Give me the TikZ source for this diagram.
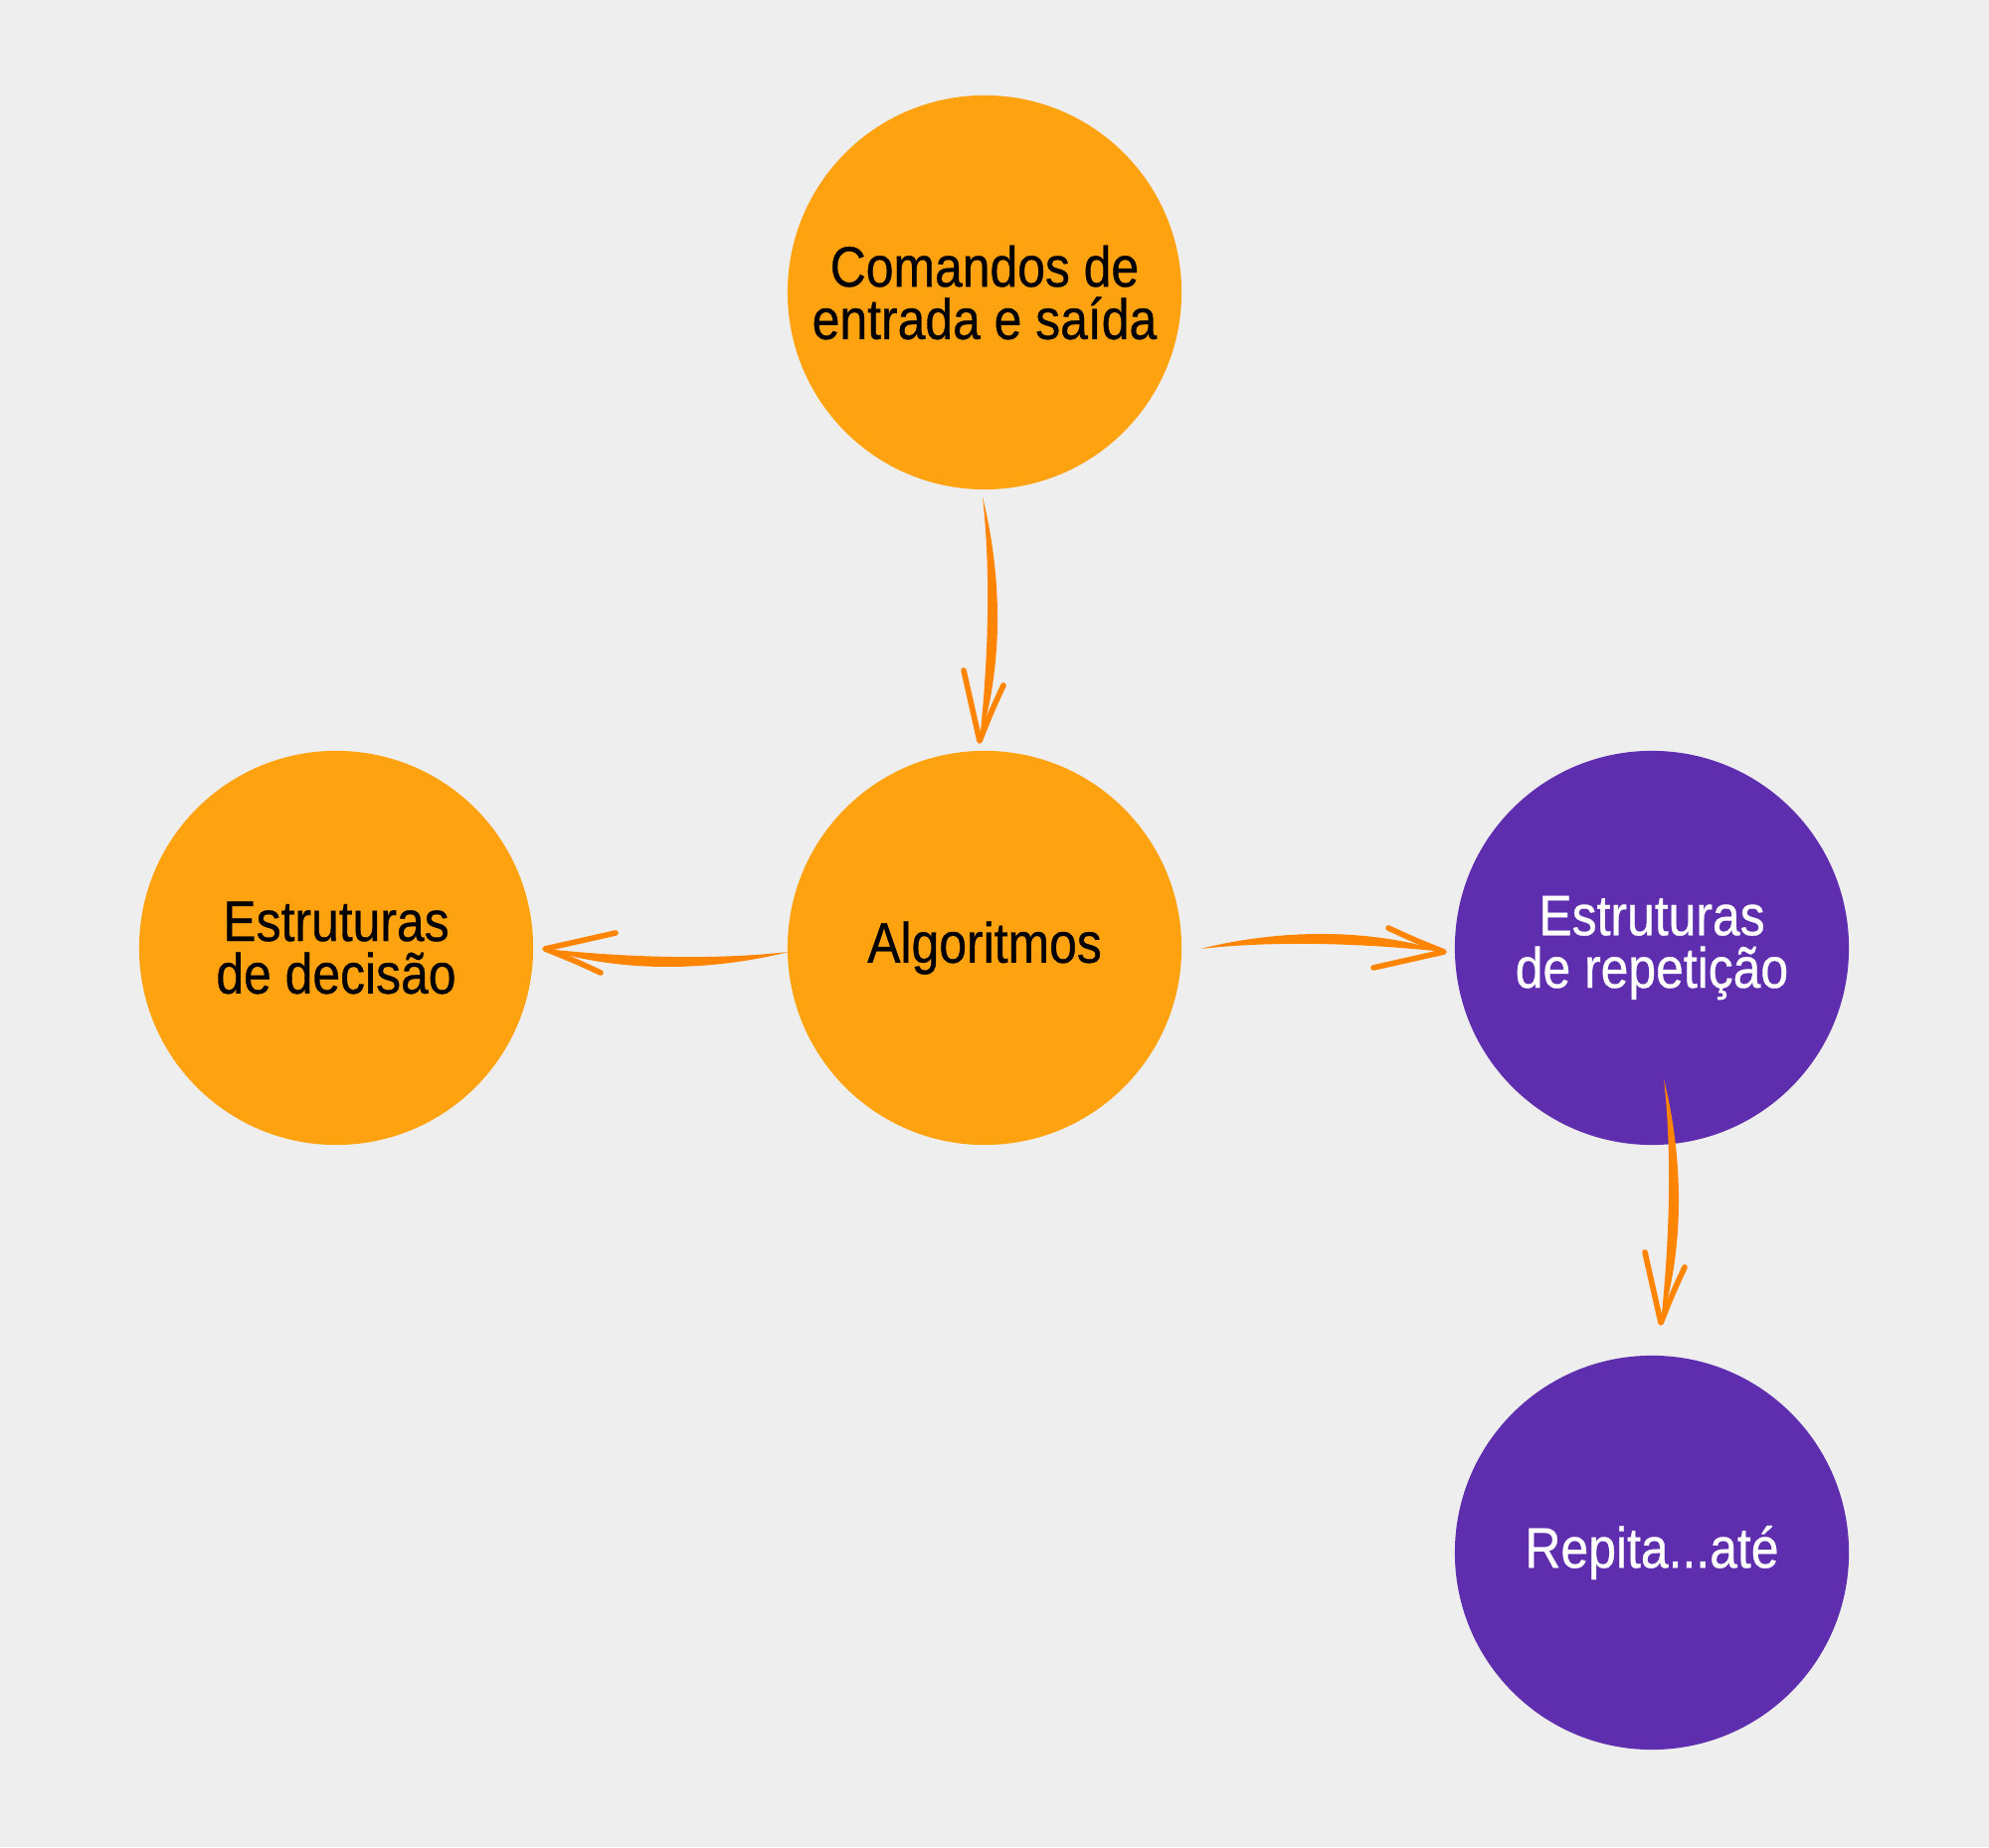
\documentclass[tikz,border=0pt]{standalone}
\usepackage{fontspec}
\setmainfont{Liberation Sans}[FakeStretch=0.87,FakeBold=0.6]
\usetikzlibrary{calc}
\definecolor{bgc}{HTML}{EEEEEE}
\definecolor{orangec}{HTML}{FFA210}
\definecolor{purplec}{HTML}{5F2EAF}
\definecolor{arrowc}{HTML}{FF8400}
\begin{document}
\begin{tikzpicture}[x=0.01cm,y=0.01cm,
  bubble/.style={circle, minimum size=3.96cm, inner sep=0pt, align=center,
    font=\fontsize{16.3}{15}\selectfont},
  orangebubble/.style={bubble, fill=orangec, text=black},
  purplebubble/.style={bubble, fill=purplec, text=white},
  harrow/.pic={
    \fill[arrowc] (0,0) .. controls (80,20) and (170,21) .. (245,-3)
      .. controls (170,5) and (80,9) .. (0,0) -- cycle;
    \draw[arrowc, line width=1.6pt, line cap=round, line join=round]
      (189,21) .. controls (215,9) .. (245,-3) -- (174,-19);
  }]
\fill[bgc] (0,0) rectangle (2000,1857);
\useasboundingbox (0,0) rectangle (2000,1857);

\node[orangebubble] (cmd) at (990,1563) {Comandos de\\entrada e saída};
\node[orangebubble] (alg) at (990,904) {Algoritmos};
\node[orangebubble] (dec) at (338,904) {Estruturas\\de decisão};
\node[purplebubble] (rep) at (1661,904) {Estruturas\\de repetição};
\node[purplebubble] (ate) at (1661,296) {Repita...até};

\pic[rotate=-90] at ($(cmd)+(-2,-206)$) {harrow};
\pic[rotate=180] at ($(alg)+(-197,-4)$) {harrow};
\pic at ($(alg)+(217,-1)$) {harrow};
\pic[rotate=-90] at ($(rep)+(12,-132)$) {harrow};
\end{tikzpicture}
\end{document}
